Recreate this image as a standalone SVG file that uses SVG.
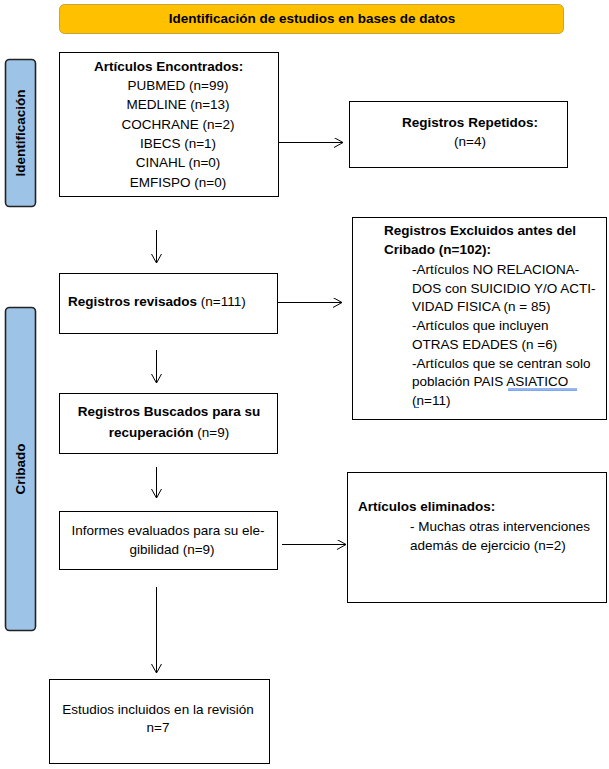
<svg xmlns="http://www.w3.org/2000/svg" width="609" height="769" viewBox="0 0 609 769">
<defs>
<style>
text{font-family:"Liberation Sans",Arial,sans-serif;font-size:13.5px;fill:#000}
.b{font-weight:bold}
.box{fill:#fff;stroke:#000;stroke-width:1}
.side{fill:#9DC3E6;stroke:#222;stroke-width:1.6}
.c{text-anchor:middle}
.conn{stroke:#000;stroke-width:1;fill:none;marker-end:url(#ah)}
</style>
<marker id="ah" markerUnits="userSpaceOnUse" markerWidth="12" markerHeight="12" refX="9" refY="5" orient="auto">
<path d="M0,0 L9,5 L0,10" fill="none" stroke="#000" stroke-width="1"/>
</marker>
</defs>
<rect width="609" height="769" fill="#fff"/>

<g id="banner">
<rect x="59.5" y="4.5" width="504" height="29" rx="5" fill="#FFC000" stroke="#C9A33A" stroke-width="1"/>
<text class="b c" x="312" y="23">Identificación de estudios en bases de datos</text>
</g>

<g id="side-identificacion">
<rect class="side" x="5.5" y="59.5" width="30" height="147" rx="4"/>
<text class="b c" transform="translate(20,133) rotate(-90)" y="4.5">Identificación</text>
</g>

<g id="side-cribado">
<rect class="side" x="5.5" y="307.5" width="30" height="323" rx="4"/>
<text class="b c" transform="translate(20,469) rotate(-90)" y="4.5">Cribado</text>
</g>

<g id="articulos-encontrados">
<rect class="box" x="59.5" y="52.5" width="219" height="144"/>
<text class="b" x="94" y="71">Artículos Encontrados:</text>
<text class="c" x="178" y="90">PUBMED (n=99)</text>
<text class="c" x="178" y="109.3">MEDLINE (n=13)</text>
<text class="c" x="178" y="128.6">COCHRANE (n=2)</text>
<text class="c" x="178" y="147.9">IBECS (n=1)</text>
<text class="c" x="178" y="167.2">CINAHL (n=0)</text>
<text class="c" x="178" y="186.5">EMFISPO (n=0)</text>
</g>

<g id="registros-repetidos">
<rect class="box" x="349.5" y="101.5" width="218" height="66"/>
<text class="b c" x="470" y="127">Registros Repetidos:</text>
<text class="c" x="470" y="146">(n=4)</text>
</g>

<g id="registros-revisados">
<rect class="box" x="59.5" y="273.5" width="218" height="60"/>
<text x="68" y="306"><tspan class="b">Registros revisados</tspan> (n=111)</text>
</g>

<g id="registros-excluidos">
<rect class="box" x="352.5" y="217.5" width="254" height="202"/>
<text class="b" x="384" y="235">Registros Excluidos antes del</text>
<text class="b" x="384" y="253.5">Cribado (n=102):</text>
<text x="412" y="274">-Artículos NO RELACIONA-</text>
<text x="412" y="292.7">DOS con SUICIDIO Y/O ACTI-</text>
<text x="412" y="311.4">VIDAD FISICA (n = 85)</text>
<text x="412" y="330.1">-Artículos que incluyen</text>
<text x="412" y="348.8">OTRAS EDADES (n =6)</text>
<text x="412" y="367.5">-Artículos que se centran solo</text>
<text x="412" y="386.2">población PAIS ASIATICO </text>
<text x="412" y="404.9">(n=11)</text>
<line x1="508" y1="389" x2="577" y2="389" stroke="#2F6FE0" stroke-width="1"/>
<line x1="508" y1="390.5" x2="577" y2="390.5" stroke="#7FA6EE" stroke-width="1"/>
<line x1="414" y1="407.5" x2="419" y2="407.5" stroke="#2F6FE0" stroke-width="1"/>
</g>

<g id="registros-buscados">
<rect class="box" x="59.5" y="393.5" width="218" height="60"/>
<text class="c" x="169" y="416"><tspan class="b">Registros Buscados para su</tspan></text>
<text class="c" x="169" y="437"><tspan class="b">recuperación</tspan> (n=9)</text>
</g>

<g id="informes-evaluados">
<rect class="box" x="59.5" y="511.5" width="218" height="58"/>
<text class="c" x="168" y="535">Informes evaluados para su ele-</text>
<text class="c" x="172" y="554">gibilidad (n=9)</text>
</g>

<g id="articulos-eliminados">
<rect class="box" x="347.5" y="472.5" width="259" height="130"/>
<text class="b" x="358" y="511">Artículos eliminados:</text>
<text x="410" y="530.5">- Muchas otras intervenciones</text>
<text x="410" y="549.5">además de ejercicio (n=2)</text>
</g>

<g id="estudios-incluidos">
<rect class="box" x="49.5" y="679.5" width="220" height="84"/>
<text class="c" x="158" y="714">Estudios incluidos en la revisión</text>
<text class="c" x="158" y="732">n=7</text>
</g>

<g id="connectors">
<line class="conn" x1="279" y1="142.5" x2="343" y2="142.5"/>
<line class="conn" x1="156.5" y1="230" x2="156.5" y2="263"/>
<line class="conn" x1="278" y1="302.5" x2="342" y2="302.5"/>
<line class="conn" x1="156.5" y1="350" x2="156.5" y2="383"/>
<line class="conn" x1="156.5" y1="467" x2="156.5" y2="498"/>
<line class="conn" x1="282" y1="544.5" x2="346" y2="544.5"/>
<line class="conn" x1="156.5" y1="587" x2="156.5" y2="673"/>
</g>
</svg>
